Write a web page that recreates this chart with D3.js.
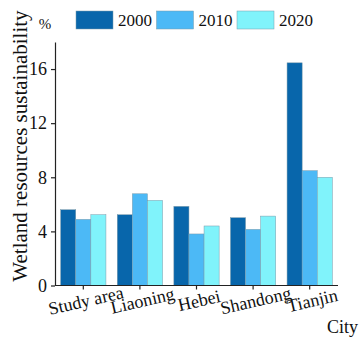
<!DOCTYPE html>
<html>
<head>
<meta charset="utf-8">
<script src="https://cdn.jsdelivr.net/npm/d3@7"></script>
<style>
  body { margin: 0; background: #fff; }
  text { font-family: "Liberation Serif", "DejaVu Serif", serif; fill: #111; }
  .axis path, .axis line { stroke: #222; stroke-width: 1.2; }
</style>
</head>
<body>
<div class="chart_frame"></div>
<script>
var cities = ['Study area', 'Liaoning', 'Hebei', 'Shandong', 'Tianjin'];
var years = ['2000', '2010', '2020'];
var v2000 = [5.6, 5.23, 5.85, 5.01, 16.46];
var v2010 = [4.89, 6.78, 3.81, 4.15, 8.49];
var v2020 = [5.23, 6.29, 4.4, 5.13, 8.0];
var yTicks = [0, 4, 8, 12, 16];
var colors = ['#0866ab', '#4cb9f6', '#80f3fb'];

var width = 360, height = 337,
    margin = {'top': 42, 'bottom': 51.5, 'left': 55, 'right': 22};

var svg = d3.select('.chart_frame').append('svg')
    .attr('width', width)
    .attr('height', height);

var x0 = d3.scaleBand().domain(cities)
    .range([margin.left, width - margin.right])
    .paddingInner(0.2).paddingOuter(0.1);
var x1 = d3.scaleBand().domain(years).range([0, x0.bandwidth()]);
var y = d3.scaleLinear().domain([0, 18]).range([height - margin.bottom, margin.top]);

var series = [v2000, v2010, v2020];

// bars
var groups = svg.append('g').selectAll('g')
    .data(cities)
    .join('g')
    .attr('transform', function(d) { return 'translate(' + x0(d) + ',0)'; });

groups.selectAll('rect')
    .data(function(d, i) { return years.map(function(yr, j) { return {yr: yr, v: series[j][i], j: j}; }); })
    .join('rect')
    .attr('x', function(d) { return x1(d.yr); })
    .attr('y', function(d) { return y(d.v); })
    .attr('width', x1.bandwidth())
    .attr('height', function(d) { return y(0) - y(d.v); })
    .attr('fill', function(d) { return colors[d.j]; })
    .attr('stroke', '#7a9aaa')
    .attr('stroke-width', 0.5);

// y axis
var yAxis = svg.append('g').attr('class', 'axis')
    .attr('transform', 'translate(' + margin.left + ',0)')
    .call(d3.axisLeft(y).tickValues(yTicks).tickSize(4).tickSizeOuter(0));
yAxis.selectAll('text').style('font-size', '18px').attr('dx', '-1');

// x axis
var xAxis = svg.append('g').attr('class', 'axis')
    .attr('transform', 'translate(0,' + y(0) + ')')
    .call(d3.axisBottom(x0).tickSize(4).tickSizeOuter(0));
xAxis.select('.domain').attr('d', 'M' + margin.left + ',0H' + (width - margin.right));
xAxis.selectAll('text')
    .style('font-size', '18px')
    .attr('text-anchor', 'middle')
    .attr('y', 0).attr('dy', 0)
    .attr('transform', 'translate(4,21) rotate(-13)');

// axis titles
svg.append('text')
    .attr('transform', 'translate(27,146) rotate(-90)')
    .attr('text-anchor', 'middle')
    .style('font-size', '21px')
    .text('Wetland resources sustainability');

svg.append('text')
    .attr('x', 45).attr('y', 29)
    .attr('text-anchor', 'middle')
    .style('font-size', '15px')
    .text('%');

svg.append('text')
    .attr('x', 358).attr('y', 333)
    .attr('text-anchor', 'end')
    .style('font-size', '18px')
    .text('City');

// legend
var legend = svg.append('g').selectAll('g')
    .data(years)
    .join('g')
    .attr('transform', function(d, i) { return 'translate(' + (76 + i * 80.5) + ',11)'; });
legend.append('rect')
    .attr('width', 37).attr('height', 18)
    .attr('fill', function(d, i) { return colors[i]; })
    .attr('stroke', '#7a9aaa').attr('stroke-width', 0.5);
legend.append('text')
    .attr('x', 42).attr('y', 15)
    .style('font-size', '17px')
    .text(function(d) { return d; });
</script>
</body>
</html>
